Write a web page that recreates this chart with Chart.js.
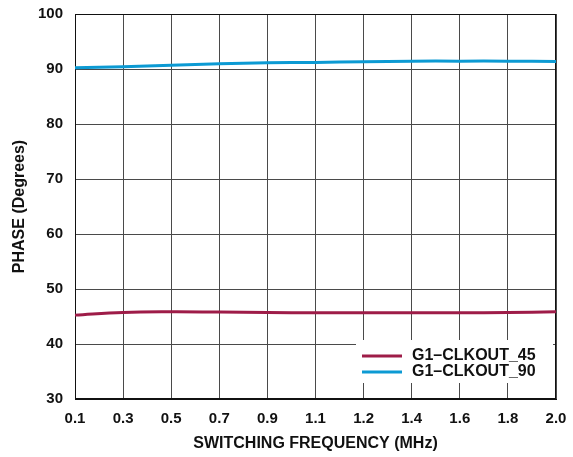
<!DOCTYPE html>
<html>
<head>
<meta charset="utf-8">
<script src="https://cdn.jsdelivr.net/npm/chart.js@4/dist/chart.umd.min.js"></script>
<style>
    body { margin: 0; background: #fff; }
    .wrap { width: 573px; height: 457px; position: relative; }
</style>
</head>
<body>
<div class="wrap"><canvas id="phaseChart"></canvas></div>
<script>
// Data
const freqLabels = ['0.1', '0.3', '0.5', '0.7', '0.9', '1.1', '1.2', '1.4', '1.6', '1.8', '2.0'];
const clkout45 = [45.25, 45.74, 45.85, 45.80, 45.74, 45.67, 45.67, 45.67, 45.67, 45.74, 45.85];
const clkout90 = [90.23, 90.41, 90.70, 90.96, 91.14, 91.19, 91.32, 91.43, 91.43, 91.43, 91.37];
const seriesNames = ['G1\u2013CLKOUT_45', 'G1\u2013CLKOUT_90'];
const yTicks = [30, 40, 50, 60, 70, 80, 90, 100];

const FONT = '"Liberation Sans", Arial, Helvetica, sans-serif';
const gridColor = '#4a4a4a';

Chart.defaults.font.family = FONT;
Chart.defaults.color = '#111';

// frame + legend box inside the plot
const framePlugin = {
    id: 'frameLegend',
    beforeDatasetsDraw(chart) {
        const { ctx, chartArea: a } = chart;
        ctx.save();
        ctx.strokeStyle = '#111';
        ctx.lineWidth = 1;
        ctx.strokeRect(Math.round(a.left) + 0.5, Math.round(a.top) + 0.5,
            Math.round(a.right - a.left) - 1, Math.round(a.bottom - a.top) - 1);

        // legend
        const bx = a.right - 200, by = a.bottom - 59;
        ctx.fillStyle = '#fff';
        ctx.fillRect(bx, by, 197, 43);
        ctx.font = 'bold 16px ' + FONT;
        ctx.textBaseline = 'middle';
        chart.data.datasets.forEach((ds, i) => {
            const y = by + 16 + i * 16;
            ctx.strokeStyle = ds.borderColor;
            ctx.lineWidth = 3;
            ctx.beginPath();
            ctx.moveTo(bx + 6, y);
            ctx.lineTo(bx + 46, y);
            ctx.stroke();
            ctx.fillStyle = '#111';
            ctx.fillText(ds.label, bx + 56, y);
        });
        ctx.restore();
    }
};

new Chart(document.getElementById('phaseChart'), {
    type: 'line',
    data: {
        labels: freqLabels,
        datasets: [{
            label: seriesNames[0],
            data: clkout45,
            borderColor: '#9e1c48',
            borderWidth: 3,
            pointRadius: 0,
            tension: 0.4
        }, {
            label: seriesNames[1],
            data: clkout90,
            borderColor: '#0c9ad3',
            borderWidth: 3,
            pointRadius: 0,
            tension: 0.4
        }]
    },
    options: {
        responsive: true, maintainAspectRatio: false,
        animation: false,
        layout: { padding: { top: 14, right: 17, left: 0, bottom: 0 } },
        plugins: { legend: { display: false }, tooltip: { enabled: false } },
        scales: {
            x: {
                offset: false,
                grid: { color: gridColor, drawTicks: false },
                border: { color: '#111' },
                ticks: { color: '#111', font: { size: 15, weight: 'bold' }, padding: 11, maxRotation: 0, autoSkip: false },
                title: { display: true, text: 'SWITCHING FREQUENCY (MHz)', color: '#111',
                    font: { size: 16, weight: 'bold' }, padding: { top: 0, bottom: 4 } },
                afterFit: s => { s.height = 58; s.paddingLeft = 0; s.paddingRight = 0; }
            },
            y: {
                min: yTicks[0], max: yTicks[yTicks.length - 1],
                afterBuildTicks: s => { s.ticks = yTicks.map(v => ({ value: v })); },
                grid: { color: gridColor, drawTicks: false },
                border: { color: '#111' },
                ticks: { color: '#111', font: { size: 15, weight: 'bold' }, padding: 12 },
                title: { display: true, text: 'PHASE (Degrees)', color: '#111',
                    font: { size: 16, weight: 'bold' }, padding: { top: 10, bottom: 0 } },
                afterFit: s => { s.width = 75; s.paddingTop = 0; s.paddingBottom = 0; }
            }
        }
    },
    plugins: [framePlugin]
});
</script>
</body>
</html>
